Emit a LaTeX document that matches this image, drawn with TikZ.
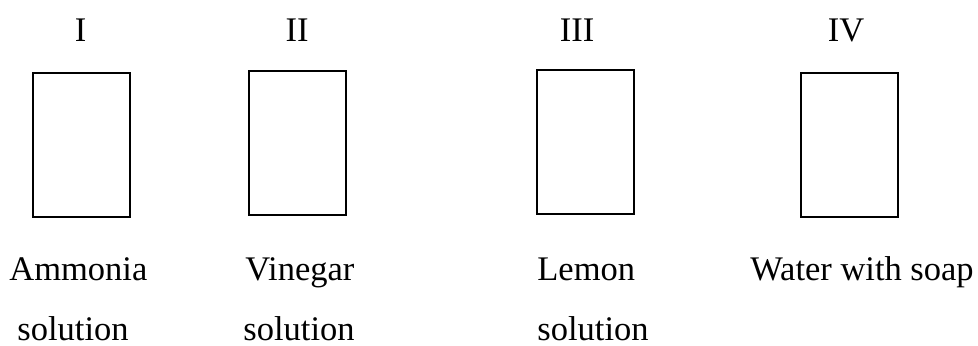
\documentclass[tikz,border=0pt]{standalone}
\usepackage{fontspec}
\setmainfont{Liberation Serif}
\usetikzlibrary{positioning}

\begin{document}
\begin{tikzpicture}[
  x=0.5pt, y=-0.5pt,
  font=\fontsize{17.25}{20}\selectfont,
  beaker/.style={
    rectangle,
    fill=white!100,
    line width=1pt,
    draw=black,
    minimum height=72pt, minimum width=48.5pt,
    outer sep=0pt
  },
  number label/.style={
    anchor=base,
    inner sep=0pt
  },
  liquid label/.style={
    anchor=base west,
    inner sep=0pt
  }
  ]
\useasboundingbox (0,0) rectangle (978,345);
% Beaker I
\node [beaker] (beaker one) at (81.5,145) {};
\node [number label] (number one) at (80.5,41) {I};
\node [liquid label] (liquid one) at (9,280) {Ammonia};
\node [liquid label] (liquid one b) at (17,340) {solution};
% Beaker II
\node [beaker] (beaker two) at (297.5,142.5) {};
\node [number label] (number two) at (297,41) {II};
\node [liquid label] (liquid two) at (245,280) {Vinegar};
\node [liquid label] (liquid two b) at (243,340) {solution};
% Beaker III
\node [beaker] (beaker three) at (585.5,142) {};
\node [number label] (number three) at (577,41) {III};
\node [liquid label] (liquid three) at (537,280) {Lemon};
\node [liquid label] (liquid three b) at (537,340) {solution};
% Beaker IV
\node [beaker] (beaker four) at (849.5,145) {};
\node [number label] (number four) at (846,41) {IV};
\node [liquid label] (liquid four) at (750,280) {Water with soap};
\end{tikzpicture}
\end{document}
